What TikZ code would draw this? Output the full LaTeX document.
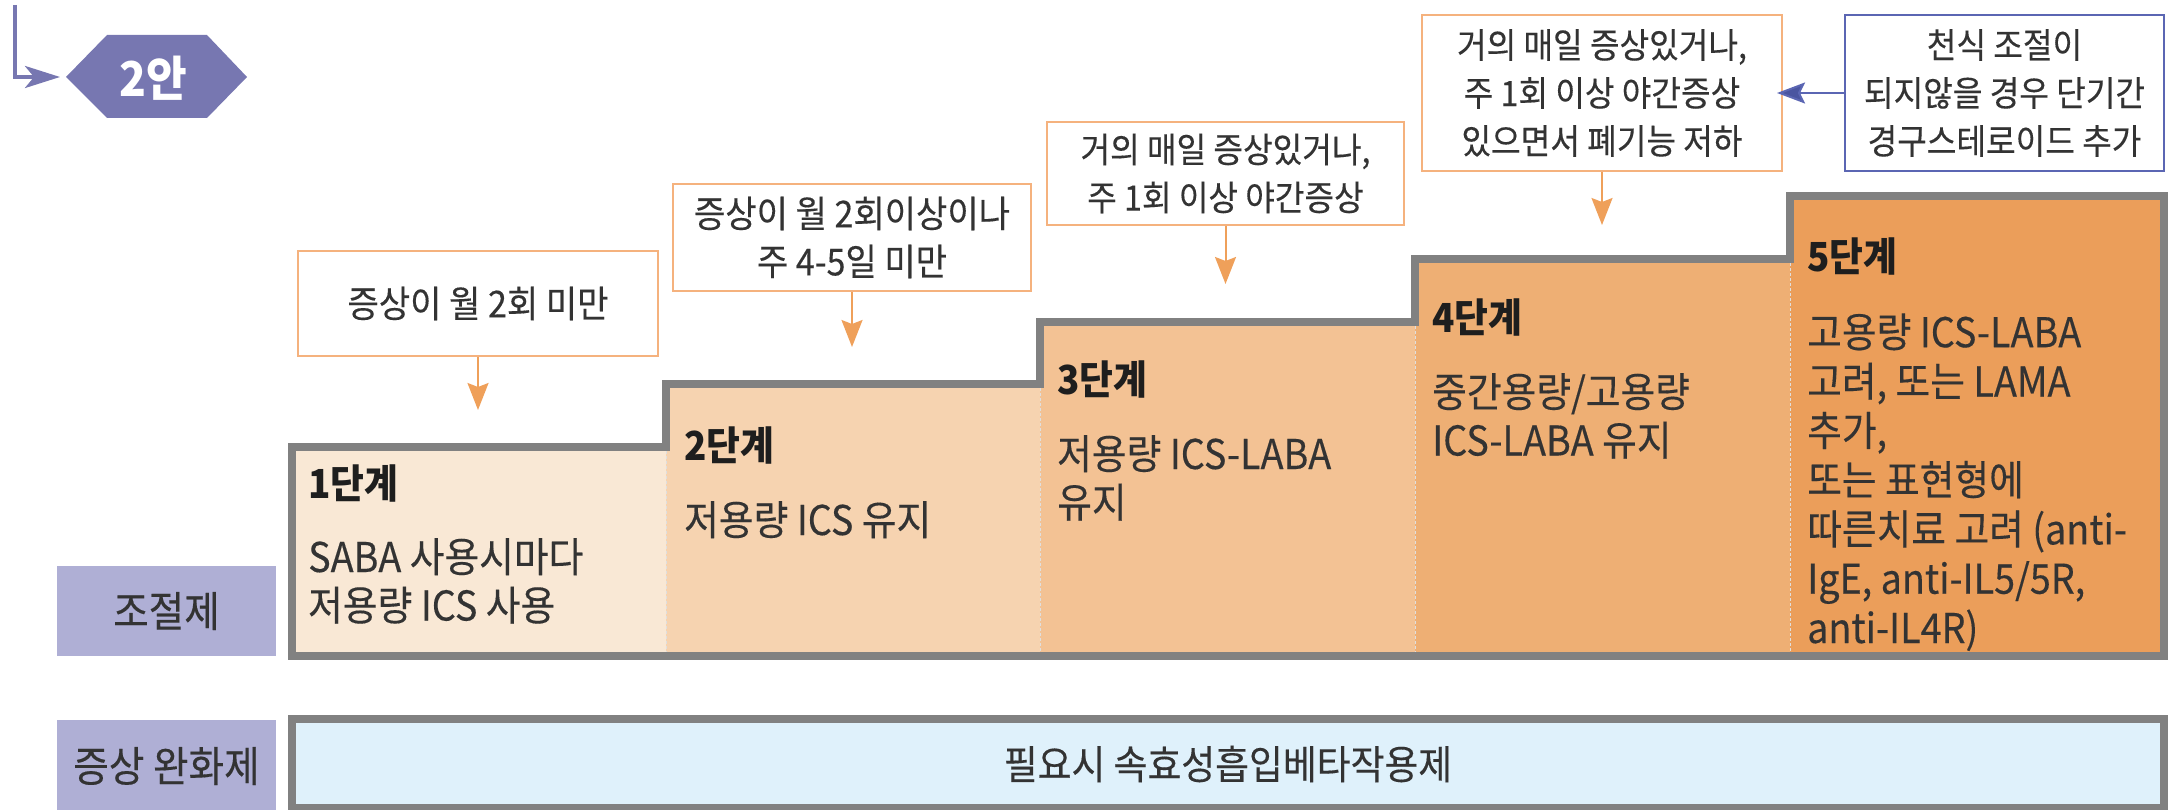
\documentclass[tikz,border=0pt]{standalone}
\usepackage{fontspec}
\setmainfont{Noto Sans CJK KR}[FakeStretch=0.92, UprightFeatures={FakeBold=0.3}]
\usetikzlibrary{arrows.meta}
\definecolor{sA}{HTML}{F9E8D5}
\definecolor{sB}{HTML}{F6D3B0}
\definecolor{sC}{HTML}{F3C294}
\definecolor{sD}{HTML}{EEAF74}
\definecolor{sE}{HTML}{EB9E5A}
\definecolor{frame}{HTML}{818181}
\definecolor{lav}{HTML}{AFAFD5}
\definecolor{hexc}{HTML}{7777B1}
\definecolor{relief}{HTML}{DFF1FB}
\definecolor{condor}{HTML}{F5B27E}
\definecolor{arror}{HTML}{EFA05A}
\definecolor{bluebox}{HTML}{5B66B3}
\definecolor{bluearr}{HTML}{4A55A0}
\definecolor{txt}{HTML}{333333}
\definecolor{ttl}{HTML}{1E1E1E}
\begin{document}
\begin{tikzpicture}[x=1pt,y=-1pt,
  cond/.style={draw=condor, line width=2pt, fill=white, align=center, inner sep=0pt,
    text=txt, font=\fontsize{35}{48}\selectfont},
  condL/.style={cond, font=\fontsize{37}{48}\selectfont},
  bcond/.style={cond, draw=bluebox},
  oarrow/.style={draw=arror, line width=2pt,
    -{Stealth[length=27pt,width=21pt,inset=4pt,fill=arror]}},
  barrow/.style={draw=bluebox, line width=2pt,
    -{Stealth[length=28pt,width=21pt,inset=5pt,fill=bluearr]}},
  stitle/.style={anchor=base west, inner sep=0pt, text=ttl,
    font=\bfseries\fontsize{40}{48}\selectfont},
  sbody/.style={anchor=base west, align=left, inner sep=0pt, text=txt,
    font=\fontsize{41}{48.5}\selectfont},
  sbodyW/.style={sbody, font=\fontsize{41}{49.3}\selectfont},
  lab/.style={fill=lav, inner sep=0pt, text=txt, font=\fontsize{42}{48}\selectfont},
  divider/.style={draw=white!75!gray, line width=1pt, dash pattern=on 3pt off 2pt},
  frameline/.style={draw=frame, line width=8pt, line join=miter}
]
\useasboundingbox (0,0) rectangle (2175,810);

% top-left marker
\fill[hexc] (66,77) -- (107,35) -- (207,35) -- (247,77) -- (207,118) -- (107,118) -- cycle;
\node[text=white, inner sep=0pt, font=\bfseries\fontsize{48}{52}\selectfont] (plan) at (153,78) {2안};
\coordinate (hexW) at (66,77);
\coordinate (mtop) at (15,5);
\draw[draw=hexc, line width=4pt, shorten >=6pt,
  -{Stealth[length=35pt,width=22pt,inset=9pt,fill=hexc]}]
  (mtop) |- (hexW);

% stage fills
\fill[sA] (292,447) rectangle (666,656);
\fill[sB] (666,384) rectangle (1040,656);
\fill[sC] (1040,322) rectangle (1415,656);
\fill[sD] (1415,259) rectangle (1790,656);
\fill[sE] (1790,196) rectangle (2164,656);
\draw[divider] (666,451) -- (666,652);
\draw[divider] (1040,388) -- (1040,652);
\draw[divider] (1415,326) -- (1415,652);
\draw[divider] (1790,263) -- (1790,652);
\draw[frameline] (292,656) -- (292,447) -- (666,447) -- (666,384) -- (1040,384)
  -- (1040,322) -- (1415,322) -- (1415,259) -- (1790,259) -- (1790,196)
  -- (2164,196) -- (2164,656) -- cycle;

% stage texts (base anchor = baseline of the last line)
\node[stitle] (t1) at (308,498) {1단계};
\node[sbody]  (b1) at (308,620.5) {SABA 사용시마다\\저용량 ICS 사용};
\node[stitle] (t2) at (684,460) {2단계};
\node[sbody]  (b2) at (684,535) {저용량 ICS 유지};
\node[stitle] (t3) at (1057,394) {3단계};
\node[sbody]  (b3) at (1057,517.5) {저용량 ICS-LABA\\유지};
\node[stitle] (t4) at (1432,332) {4단계};
\node[sbody]  (b4) at (1432,455.5) {중간용량/고용량\\ICS-LABA 유지};
\node[stitle] (t5) at (1807,272) {5단계};
\node[sbodyW] (b5) at (1807,643) {고용량 ICS-LABA\\고려, 또는 LAMA\\추가,\\또는 표현형에\\따른치료 고려 (anti-\\IgE, anti-IL5/5R,\\anti-IL4R)};

% reliever bar
\draw[frameline, fill=relief] (292,719) rectangle (2164,808);
\node[inner sep=0pt, text=txt, font=\fontsize{40}{44}\selectfont] (rel) at (1228,764) {필요시 속효성흡입베타작용제};

% row labels
\node[lab, minimum width=219pt, minimum height=90pt] (ctrl) at (166.5,611) {조절제};
\node[lab, minimum width=219pt, minimum height=92pt] (sym) at (166.5,766) {증상 완화제};

% condition boxes
\node[condL, minimum width=360pt, minimum height=105pt] (c1) at (478,303.5) {증상이 월 2회 미만};
\node[condL, minimum width=358pt, minimum height=107pt] (c2) at (852,237.5) {증상이 월 2회이상이나\\주 4-5일 미만};
\node[cond, minimum width=357pt, minimum height=103pt] (c3) at (1225.5,173.5) {거의 매일 증상있거나,\\주 1회 이상 야간증상};
\node[cond, minimum width=360pt, minimum height=156pt] (c4) at (1602,93) {거의 매일 증상있거나,\\주 1회 이상 야간증상\\있으면서 폐기능 저하};
\node[bcond, minimum width=319pt, minimum height=156pt] (c5) at (2004.5,93) {천식 조절이\\되지않을 경우 단기간\\경구스테로이드 추가};

\coordinate (p1) at (478,410);
\coordinate (p2) at (852,347);
\coordinate (p3) at (1225.5,284);
\coordinate (p4) at (1602,225);
\draw[oarrow] (c1.south) -- (p1);
\draw[oarrow] (c2.south) -- (p2);
\draw[oarrow] (c3.south) -- (p3);
\draw[oarrow] (c4.south) -- (p4);
\draw[barrow, shorten >=-6pt] (c5.west) -- (c4.east);
\end{tikzpicture}
\end{document}
